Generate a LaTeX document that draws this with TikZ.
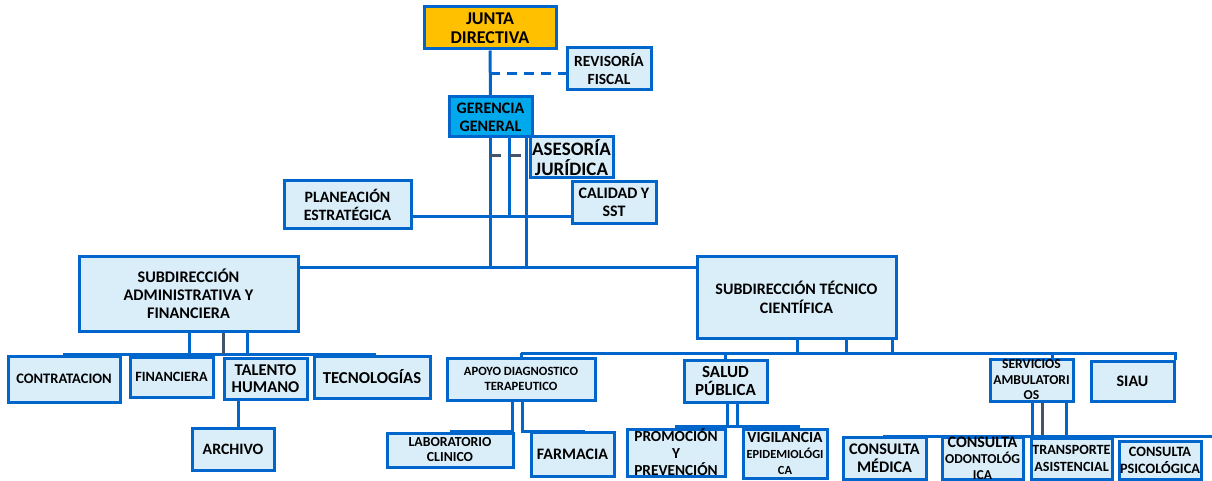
\documentclass[tikz,border=0pt]{standalone}
\usepackage{fontspec}
\setmainfont{Carlito}
\usetikzlibrary{backgrounds}
\definecolor{bl}{RGB}{0,102,204}
\definecolor{lfill}{RGB}{218,238,250}
\definecolor{gold}{RGB}{255,192,0}
\definecolor{gcyan}{RGB}{0,168,236}
\definecolor{dkl}{RGB}{68,84,106}
\newcommand\fs[2]{\fontsize{#1}{#2}\selectfont}
\newcommand\obox[7][]{\node[box,#1,minimum width={(#5-#3)*1pt},minimum height={(#6-#4)*1pt}] (#2) at ({(#3+#5)/2},{(#4+#6)/2}) {#7};}
\tikzset{
  box/.style={draw=bl,line width=3pt,fill=lfill,inner sep=0pt,align=center,font=\bfseries\fs{15}{18}},
  ln/.style={draw=bl,line width=3pt},
  dk/.style={draw=dkl,line width=3pt},
}
\begin{document}
\begin{tikzpicture}[x=1pt,y=-1pt]
\useasboundingbox (0,0) rectangle (1212,481);
\coordinate (rf) at (490,74);
\coordinate (gA) at (490,137);
\coordinate (gB) at (509,137);
\coordinate (gC) at (526,137);
\coordinate (gAe) at (490,267);
\coordinate (gBe) at (509,216);
\coordinate (gCe) at (526,267);
\coordinate (dsh) at (490,156);
\coordinate (ah) at (63,354);
\coordinate (ahe) at (376,354);
\coordinate (th) at (521,353);
\coordinate (the) at (1175,353);
\coordinate (sh) at (675,426);
\coordinate (she) at (800,426);
\coordinate (svh) at (883,436);
\coordinate (svhe) at (1212,436);
% boxes
\obox[fill=gold,font=\bfseries\fs{18}{19}]{junta}{424}{7}{556}{49}{JUNTA\\DIRECTIVA}
\obox[font=\bfseries\fs{15.5}{18}]{revisoria}{567}{48}{651}{90}{REVISORÍA\\FISCAL}
\obox[fill=gcyan,font=\bfseries\fs{16}{18}]{gerencia}{449}{97}{532}{137}{GERENCIA\\GENERAL}
\obox[font=\bfseries\fs{19}{20}]{asesoria}{530}{137}{613}{178}{ASESORÍA\\JURÍDICA}
\obox[font=\bfseries\fs{16}{18}]{calidad}{572}{182}{656}{223}{CALIDAD Y\\SST}
\obox[font=\bfseries\fs{15.8}{18}]{planeacion}{284}{181}{411}{228}{PLANEACIÓN\\ESTRATÉGICA}
\obox[font=\bfseries\fs{16.2}{18}]{admin}{79}{256}{298}{331}{SUBDIRECCIÓN\\ADMINISTRATIVA Y\\FINANCIERA}
\obox[font=\bfseries\fs{16}{19}]{tecnico}{697}{256}{896}{338}{SUBDIRECCIÓN TÉCNICO\\CIENTÍFICA}
\obox[font=\bfseries\fs{14.5}{17}]{contratacion}{8}{356}{120}{402}{CONTRATACION}
\obox[font=\bfseries\fs{14.2}{17}]{financiera}{130}{357}{213}{397}{FINANCIERA}
\obox[font=\bfseries\fs{16.5}{17}]{talento}{224}{358}{307}{399}{TALENTO\\HUMANO}
\obox[font=\bfseries\fs{16.7}{19}]{tecnologias}{314}{356}{430}{398}{TECNOLOGÍAS}
\obox[font=\bfseries\fs{15.8}{18}]{archivo}{192}{428}{274}{470}{ARCHIVO}
\obox[font=\bfseries\fs{12.6}{15}]{apoyo}{447}{358}{595}{400}{APOYO DIAGNOSTICO\\TERAPEUTICO}
\obox[font=\bfseries\fs{17}{18}]{salud}{684}{360}{767}{402}{SALUD\\PÚBLICA}
\obox[font=\bfseries\fs{13.6}{15.5}]{servicios}{990}{359}{1073}{401}{SERVICIOS\\AMBULATORI\\OS}
\obox[font=\bfseries\fs{16}{18}]{siau}{1091}{361}{1174}{401}{SIAU}
\obox[font=\bfseries\fs{13.8}{15}]{laboratorio}{387}{433}{513}{467}{LABORATORIO\\CLINICO}
\obox[font=\bfseries\fs{16}{18}]{farmacia}{531}{432}{614}{476}{FARMACIA}
\obox[font=\bfseries\fs{15.3}{17}]{promocion}{627}{429}{725}{476}{PROMOCIÓN\\Y\\PREVENCIÓN}
\obox[font=\bfseries\fs{15.5}{16}]{vigilancia}{743}{429}{827}{478}{VIGILANCIA\\{\fs{12.4}{14}EPIDEMIOLÓGI}\\{\fs{12.4}{14}CA}}
\obox[font=\bfseries\fs{16.2}{18}]{cmedica}{843}{437}{926}{479}{CONSULTA\\MÉDICA}
\obox[font=\bfseries\fs{16}{16}]{codonto}{942}{438}{1023}{479}{CONSULTA\\{\fs{13.6}{15}ODONTOLÓG}\\{\fs{13.6}{15}ICA}}
\obox[font=\bfseries\fs{14.1}{17}]{transporte}{1031}{438}{1112}{479}{TRANSPORTE\\ASISTENCIAL}
\obox[font=\bfseries\fs{14.3}{17}]{cpsico}{1119}{441}{1201}{479}{CONSULTA\\PSICOLÓGICA}
% lines
\begin{scope}[on background layer]
\draw[ln] (junta.south) -- (gerencia.north);
\draw[ln,dash pattern=on 10pt off 7pt] (rf) -- (rf -| revisoria.west);
\draw[ln] (gA) -- (gAe);
\draw[ln] (gB) -- (gBe);
\draw[ln] (gC) -- (gCe);
\draw[dk,dash pattern=on 11pt off 9pt] (dsh) -- (dsh -| asesoria.west);
\draw[ln] (gBe -| planeacion.east) -- (gBe -| calidad.west);
\draw[ln] (gAe -| admin.east) -- (gAe -| tecnico.west);
% admin children
\draw[ln] (ah) -- (ahe);
\draw[ln] (189,331) -- (189,354);
\draw[dk] (223,331) -- (223,354);
\draw[ln] (247,331) -- (247,354);
\draw[ln] (talento.south -| archivo.north) ++(5,0) -- ++(0,30);
% tecnico children
\draw[ln] (797,338) -- (797,353);
\draw[ln] (846,338) -- (846,353);
\draw[ln] (892,338) -- (892,353);
\draw[ln] (th) -- (the) -- (the |- siau.north);
\draw[ln] (th) -- (th |- apoyo.north);
\draw[ln] (725,353) -- (725,360);
\draw[ln] (1052,353) -- (1052,359);
% apoyo children
\draw[ln] (512,400) -- (512,431) -- (450,431);
\draw[ln] (522,400) -- (522,431) -- (585,431);
% salud children
\draw[ln] (727,402) -- (727,426);
\draw[ln] (737,402) -- (737,426);
\draw[ln] (sh) -- (she);
% servicios children
\draw[ln] (1032,401) -- (1032,436);
\draw[dk] (1042,401) -- (1042,436);
\draw[ln] (1066,401) -- (1066,436);
\draw[ln] (svh) -- (svhe);
\end{scope}
\end{tikzpicture}
\end{document}
